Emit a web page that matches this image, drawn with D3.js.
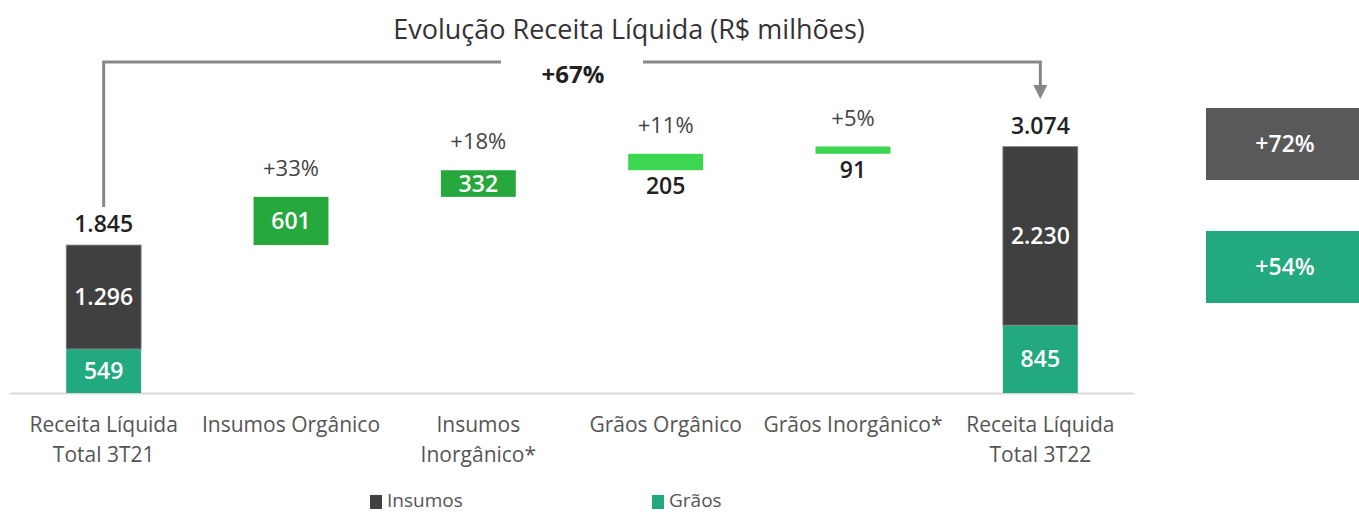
<!DOCTYPE html>
<html>
<head>
<meta charset="utf-8">
<script src="https://cdn.jsdelivr.net/npm/d3@7"></script>
<style>
  body { margin: 0; background: #fff; }
  svg { display: block; font-family: "Open Sans", sans-serif; }
</style>
</head>
<body>
<svg id="chart" width="1359" height="512"></svg>
<script>
// ========== DATA ==========
const categories = ["Receita Líquida\nTotal 3T21", "Insumos Orgânico", "Insumos\nInorgânico*", "Grãos Orgânico", "Grãos Inorgânico*", "Receita Líquida\nTotal 3T22"];
const kinds = ["total", "step", "step", "step", "step", "total"];
const totals = [1845, null, null, null, null, 3074];
const insumosTotals = [1296, null, null, null, null, 2230];
const graosTotals = [549, null, null, null, null, 845];
const steps = [null, 601, 332, 205, 91, null];
const stepGrowth = [null, "+33%", "+18%", "+11%", "+5%", null];
const stepColors = [null, "#27a83c", "#27a83c", "#3dd651", "#3dd651", null];
const totalGrowth = "+67%";
const sideBoxes = [{ label: "+72%", series: "Insumos" }, { label: "+54%", series: "Grãos" }];
const seriesNames = ["Insumos", "Grãos"];

const fmt = v => d3.format(",")(v).replace(/,/g, ".");
const colors = { "Insumos": "#404040", "Grãos": "#22a97f" };

const svg = d3.select("#chart");

// scales
const x = d3.scaleBand().domain(categories).range([10, 1134]).paddingInner(0.6).paddingOuter(0.3);
const y = d3.scaleLinear().domain([0, 3074]).range([393, 146.5]);

// ========== BUILD WATERFALL ROWS ==========
let running = 0;
const rows = categories.map((c, i) => {
  if (kinds[i] === "total") {
    running = totals[i];
    return { c, i, kind: "total", total: totals[i] };
  }
  const start = running;
  running += steps[i];
  return { c, i, kind: "step", start, end: running };
});

// title
svg.append("text")
  .attr("x", 629).attr("y", 39)
  .attr("text-anchor", "middle")
  .attr("font-size", 27).attr("font-weight", 500).attr("fill", "#333")
  .text("Evolução Receita Líquida (R$ milhões)");

// baseline
svg.append("line")
  .attr("x1", x.range()[0]).attr("x2", x.range()[1])
  .attr("y1", y(0) + 0.5).attr("y2", y(0) + 0.5)
  .attr("stroke", "#d9d9d9").attr("stroke-width", 2);

// ========== BARS ==========
const g = svg.append("g");
rows.forEach(r => {
  const bx = x(r.c), bw = x.bandwidth(), cx = bx + bw / 2;
  if (r.kind === "total") {
    const gr = graosTotals[r.i];
    g.append("rect").attr("x", bx).attr("width", bw)
      .attr("y", y(gr)).attr("height", y(0) - y(gr)).attr("fill", colors["Grãos"]);
    g.append("rect").attr("x", bx).attr("width", bw)
      .attr("y", y(r.total)).attr("height", y(gr) - y(r.total))
      .attr("fill", colors["Insumos"]).attr("stroke", "#8a8a8a").attr("stroke-width", 0.8);
    g.append("text").attr("x", cx).attr("y", (y(0) + y(gr)) / 2 + 8)
      .attr("text-anchor", "middle").attr("font-size", 23).attr("font-weight", 600).attr("fill", "#fff")
      .text(fmt(gr));
    g.append("text").attr("x", cx).attr("y", (y(gr) + y(r.total)) / 2 + 8)
      .attr("text-anchor", "middle").attr("font-size", 23).attr("font-weight", 600).attr("fill", "#fff")
      .text(fmt(insumosTotals[r.i]));
    g.append("text").attr("x", cx).attr("y", y(r.total) - 13)
      .attr("text-anchor", "middle").attr("font-size", 23).attr("font-weight", 600).attr("fill", "#222")
      .text(fmt(r.total));
  } else {
    const top = y(r.end), h = y(r.start) - y(r.end);
    g.append("rect").attr("x", bx).attr("width", bw)
      .attr("y", top).attr("height", h).attr("fill", stepColors[r.i]);
    const big = h > 24;
    g.append("text").attr("x", cx)
      .attr("y", big ? top + h / 2 + 8 : y(r.start) + 24)
      .attr("text-anchor", "middle").attr("font-size", 23).attr("font-weight", 600)
      .attr("fill", big ? "#fff" : "#222")
      .text(fmt(steps[r.i]));
    g.append("text").attr("x", cx).attr("y", top - 21)
      .attr("text-anchor", "middle").attr("font-size", 22).attr("fill", "#444")
      .text(stepGrowth[r.i]);
  }
});

// ========== BRACKET ARROW (+67%) ==========
const first = rows[0], last = rows[rows.length - 1];
const lx = x(first.c) + x.bandwidth() / 2;
const rx = x(last.c) + x.bandwidth() / 2;
const by = 62;
const mid = (lx + rx) / 2;
const gapHalf = 71;
svg.append("path")
  .attr("d", `M${lx},${y(first.total) - 38} V${by} H${mid - gapHalf}`)
  .attr("fill", "none").attr("stroke", "#878787").attr("stroke-width", 3);
svg.append("path")
  .attr("d", `M${mid + gapHalf},${by} H${rx} V${86}`)
  .attr("fill", "none").attr("stroke", "#878787").attr("stroke-width", 3);
svg.append("path")
  .attr("d", `M${rx - 7},${85} L${rx + 7},${85} L${rx},${99} Z`)
  .attr("fill", "#878787");
svg.append("text")
  .attr("x", mid + 1).attr("y", 83)
  .attr("text-anchor", "middle").attr("font-size", 24).attr("font-weight", 700).attr("fill", "#222")
  .text(totalGrowth);

// ========== CATEGORY AXIS ==========
const axis = svg.append("g")
  .attr("transform", `translate(0,${y(0)})`)
  .call(d3.axisBottom(x).tickSize(0).tickPadding(0).tickFormat(""));
axis.select(".domain").remove();
axis.selectAll(".tick").each(function (d) {
  const t = d3.select(this).append("text")
    .attr("text-anchor", "middle").attr("font-size", 21).attr("fill", "#555")
    .attr("font-family", "Open Sans, sans-serif");
  d.split("\n").forEach((line, k) => {
    t.append("tspan").attr("x", 0).attr("y", 39 + k * 30).text(line);
  });
});

// ========== SIDE BOXES ==========
const boxY = [108, 231];
sideBoxes.forEach((b, i) => {
  svg.append("rect").attr("x", 1206).attr("y", boxY[i]).attr("width", 153).attr("height", 72)
    .attr("fill", b.series === "Insumos" ? "#595959" : colors["Grãos"]);
  svg.append("text").attr("x", 1285).attr("y", boxY[i] + 44)
    .attr("text-anchor", "middle").attr("font-size", 23).attr("font-weight", 600).attr("fill", "#fff")
    .text(b.label);
});

// ========== LEGEND ==========
const legendX = [370, 652];
seriesNames.forEach((s, i) => {
  svg.append("rect").attr("x", legendX[i]).attr("y", 495).attr("width", 12).attr("height", 14)
    .attr("fill", colors[s]);
  svg.append("text").attr("x", legendX[i] + 17).attr("y", 507)
    .attr("font-size", 19).attr("fill", "#555").text(s);
});
</script>
</body>
</html>
